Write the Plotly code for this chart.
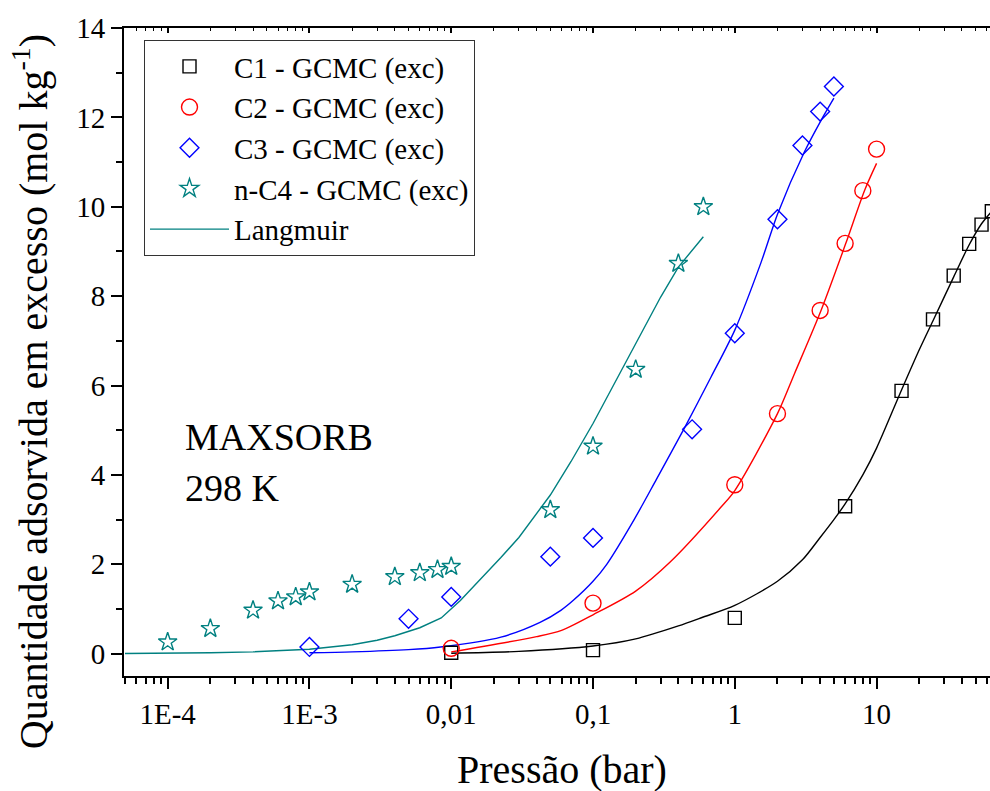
import plotly.graph_objects as go

# GCMC excess adsorption isotherms on MAXSORB at 298 K
p_c1 = [0.01, 0.1, 1, 6, 15, 25, 35, 45, 55, 65]
q_c1 = [0.02, 0.08, 0.80, 3.30, 5.88, 7.48, 8.46, 9.17, 9.60, 9.90]

p_c2 = [0.01, 0.1, 1, 2, 4, 6, 8, 10]
q_c2 = [0.12, 1.13, 3.78, 5.37, 7.68, 9.18, 10.36, 11.29]

p_c3 = [0.001, 0.005, 0.01, 0.05, 0.1, 0.5, 1, 2, 3, 4, 5]
q_c3 = [0.15, 0.78, 1.27, 2.17, 2.59, 5.02, 7.17, 9.72, 11.37, 12.13, 12.69]

p_c4 = [1e-4, 2e-4, 4e-4, 6e-4, 8e-4, 1e-3, 2e-3, 4e-3, 6e-3, 8e-3, 0.01,
        0.05, 0.1, 0.2, 0.4, 0.6]
q_c4 = [0.26, 0.56, 0.97, 1.18, 1.27, 1.38, 1.55, 1.72, 1.81, 1.88, 1.95,
        3.22, 4.64, 6.36, 8.73, 10.0]

# Langmuir model curves
lp_c1 = [0.01, 0.03, 0.1, 0.2, 0.4, 0.6, 1, 2, 3, 4, 5, 6, 8, 10, 15, 20,
         25, 35, 45, 55, 65]
lq_c1 = [0.01, 0.05, 0.17, 0.33, 0.62, 0.82, 1.08, 1.62, 2.10, 2.60, 3.00,
         3.35, 4.00, 4.60, 5.90, 6.80, 7.45, 8.43, 9.15, 9.62, 9.90]

lp_c2 = [0.01, 0.04, 0.06, 0.1, 0.2, 0.35, 0.8, 1, 2, 2.64, 4.07, 6.05,
         8.24, 10]
lq_c2 = [0.04, 0.38, 0.52, 0.87, 1.40, 2.05, 3.28, 3.65, 5.37, 6.27, 7.69,
         9.17, 10.37, 10.97]

lp_c3 = [0.001, 0.002, 0.005, 0.0084, 0.0224, 0.0423, 0.0593, 0.073, 0.1,
         0.125, 0.195, 0.28, 0.445, 0.68, 1, 1.53, 2.01, 3.1, 4.07, 5]
lq_c3 = [0.02, 0.04, 0.09, 0.15, 0.37, 0.70, 0.97, 1.20, 1.62, 2.00, 3.00,
         3.90, 5.07, 6.19, 7.24, 8.75, 9.85, 11.23, 11.94, 12.43]

lp_c4 = [5e-5, 1e-4, 2e-4, 4e-4, 6e-4, 1e-3, 2e-3, 3e-3, 4e-3, 6e-3,
         0.0085, 0.0116, 0.0224, 0.03, 0.05, 0.07, 0.1, 0.175, 0.3, 0.4,
         0.6]
lq_c4 = [0.005, 0.01, 0.02, 0.04, 0.06, 0.10, 0.20, 0.30, 0.40, 0.58,
         0.80, 1.19, 2.15, 2.60, 3.55, 4.30, 5.15, 6.60, 7.98, 8.65,
         9.33]

x_tickvals = [1e-4, 1e-3, 0.01, 0.1, 1, 10]
x_ticktext = ["1E-4", "1E-3", "0,01", "0,1", "1", "10"]
x_range = [-4.308, 1.80]

BLACK = "#000000"
RED = "#ff0000"
BLUE = "#0000ff"
TEAL = "#008080"
FONT = "Liberation Serif, DejaVu Serif, serif"

fig = go.Figure()

# model lines (drawn first so markers sit on top)
for lp, lq, col, show, shape in [(lp_c1, lq_c1, BLACK, False, "spline"),
                                 (lp_c2, lq_c2, RED, False, "spline"),
                                 (lp_c3, lq_c3, BLUE, False, "spline"),
                                 (lp_c4, lq_c4, TEAL, True, "linear")]:
    fig.add_trace(go.Scatter(
        x=lp, y=lq, mode="lines",
        line=dict(color=col, width=1.4, shape=shape, smoothing=0.8),
        name="Langmuir", showlegend=show, legendrank=5,
    ))

markers = [
    (p_c1, q_c1, "C1 - GCMC (exc)", "square-open", 13, BLACK, 1),
    (p_c2, q_c2, "C2 - GCMC (exc)", "circle-open", 16, RED, 2),
    (p_c3, q_c3, "C3 - GCMC (exc)", "diamond-open", 14.5, BLUE, 3),
    (p_c4, q_c4, "n-C4 - GCMC (exc)", "star-open", 14, TEAL, 4),
]
for px, qy, name, sym, size, col, rank in markers:
    fig.add_trace(go.Scatter(
        x=px, y=qy, mode="markers", name=name, legendrank=rank,
        marker=dict(symbol=sym, size=size, color=col,
                    line=dict(color=col, width=1.4)),
    ))

# empty trace that anchors the top tick axis
fig.add_trace(go.Scatter(x=[], y=[], xaxis="x2", yaxis="y",
                         showlegend=False, hoverinfo="skip"))

fig.add_annotation(x=-3.892, y=4.84, xref="x", yref="y", text="MAXSORB",
                   showarrow=False, xanchor="left", yanchor="middle",
                   font=dict(family=FONT, size=38, color="black"))
fig.add_annotation(x=-3.892, y=3.70, xref="x", yref="y", text="298 K",
                   showarrow=False, xanchor="left", yanchor="middle",
                   font=dict(family=FONT, size=38, color="black"))

# axis titles
fig.add_annotation(x=-0.1085, y=0.438, xref="paper", yref="paper",
                   text="Quantidade adsorvida em excesso (mol kg<sup>-1</sup>)",
                   textangle=-90, showarrow=False,
                   xanchor="center", yanchor="middle",
                   font=dict(family=FONT, size=40, color="black"))
fig.add_annotation(x=0.5058, y=-0.145, xref="paper", yref="paper",
                   text="Pressão (bar)", showarrow=False,
                   xanchor="center", yanchor="middle",
                   font=dict(family=FONT, size=40, color="black"))

fig.update_layout(
    width=990, height=791,
    margin=dict(l=124, r=0, t=28, b=115),
    paper_bgcolor="white", plot_bgcolor="white",
    font=dict(family=FONT, color="black"),
    showlegend=True,
    legend=dict(
        x=0.0231, y=0.9815, xanchor="left", yanchor="top",
        bgcolor="white", bordercolor="#333333", borderwidth=1,
        font=dict(family=FONT, size=29, color="black"),
        itemwidth=79, tracegroupgap=0,
    ),
    xaxis=dict(
        type="log", range=x_range,
        tickvals=x_tickvals, ticktext=x_ticktext,
        ticks="outside", ticklen=11, tickwidth=2, tickcolor="black",
        minor=dict(ticks="outside", ticklen=6, tickwidth=1.5,
                   tickcolor="black", dtick="D1", showgrid=False),
        showline=True, linewidth=2, linecolor="black", mirror=True,
        showgrid=False, zeroline=False,
        tickfont=dict(family=FONT, size=29, color="black"),
    ),
    xaxis2=dict(
        type="log", range=x_range, overlaying="x", side="top",
        anchor="y", tickvals=x_tickvals, showticklabels=False,
        ticks="inside", ticklen=5, tickwidth=1.5, tickcolor="black",
        minor=dict(ticks="inside", ticklen=3, tickwidth=1,
                   tickcolor="black", dtick="D1", showgrid=False),
        showline=False, showgrid=False, zeroline=False,
    ),
    yaxis=dict(
        range=[-0.5, 14], tickmode="linear", tick0=0, dtick=2,
        ticks="outside", ticklen=11, tickwidth=2, tickcolor="black",
        minor=dict(ticks="outside", ticklen=6, tickwidth=1.5,
                   tickcolor="black", dtick=1, showgrid=False),
        showline=True, linewidth=2, linecolor="black", mirror=False,
        showgrid=False, zeroline=False,
        tickfont=dict(family=FONT, size=29, color="black"),
    ),
)

fig.write_html("out.html")
